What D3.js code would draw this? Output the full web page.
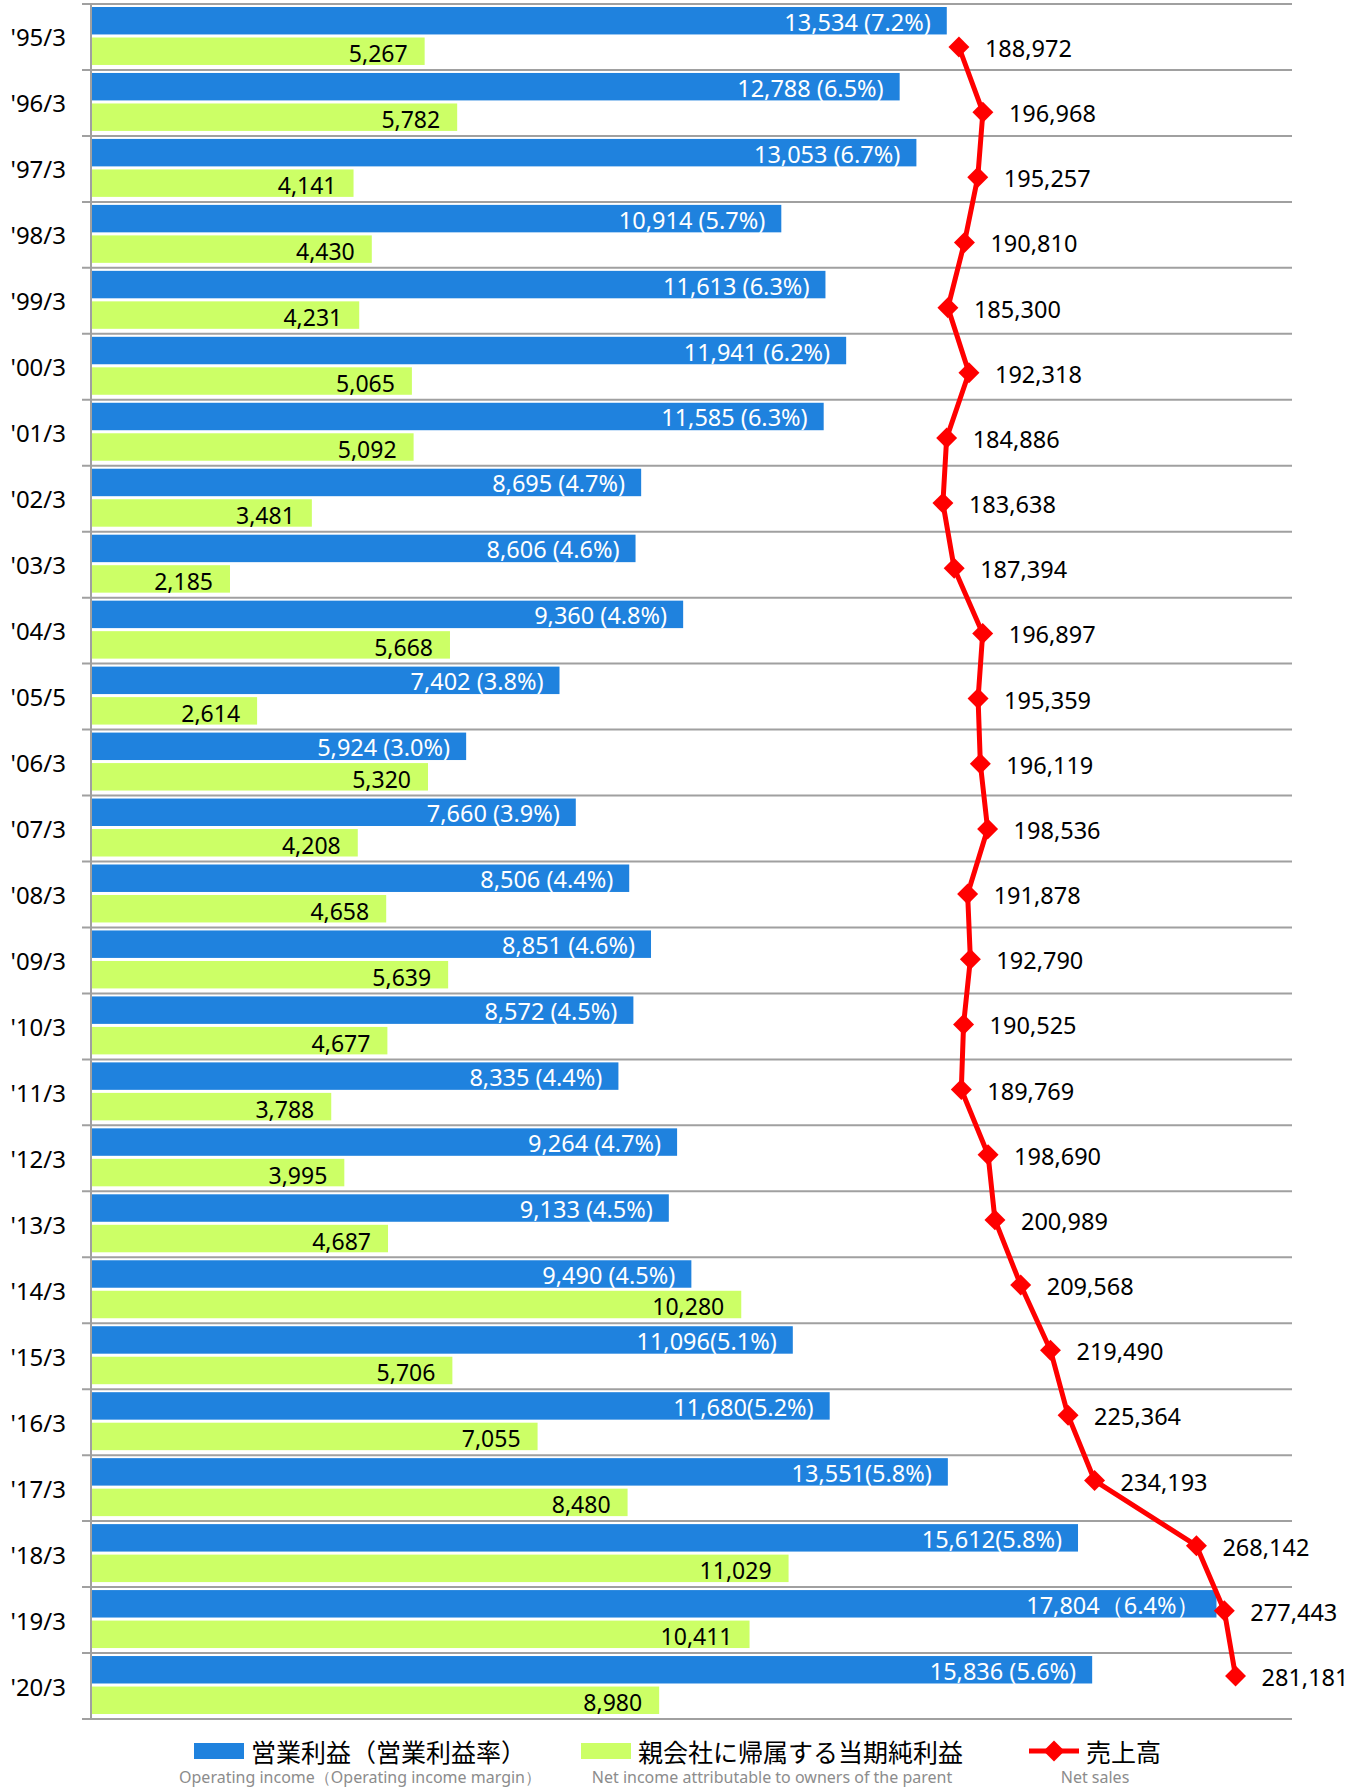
<!DOCTYPE html>
<html>
<head>
<meta charset="utf-8">
<script src="https://cdn.jsdelivr.net/npm/d3@7"></script>
<style>
  html, body { margin: 0; padding: 0; background: #fff; }
  svg { display: block; }
</style>
</head>
<body>
<script>
// Fiscal periods, top to bottom
const categories = ["'95/3","'96/3","'97/3","'98/3","'99/3","'00/3","'01/3","'02/3","'03/3","'04/3","'05/5","'06/3","'07/3","'08/3","'09/3","'10/3","'11/3","'12/3","'13/3","'14/3","'15/3","'16/3","'17/3","'18/3","'19/3","'20/3"];

// 営業利益 (百万円)
const operatingIncome = [13534,12788,13053,10914,11613,11941,11585,8695,8606,9360,7402,5924,7660,8506,8851,8572,8335,9264,9133,9490,11096,11680,13551,15612,17804,15836];
// 営業利益率 as printed after each figure
const marginLabels = [" (7.2%)"," (6.5%)"," (6.7%)"," (5.7%)"," (6.3%)"," (6.2%)"," (6.3%)"," (4.7%)"," (4.6%)"," (4.8%)"," (3.8%)"," (3.0%)"," (3.9%)"," (4.4%)"," (4.6%)"," (4.5%)"," (4.4%)"," (4.7%)"," (4.5%)"," (4.5%)","(5.1%)","(5.2%)","(5.8%)","(5.8%)","（6.4%）"," (5.6%)"];
// 親会社に帰属する当期純利益
const netIncome = [5267,5782,4141,4430,4231,5065,5092,3481,2185,5668,2614,5320,4208,4658,5639,4677,3788,3995,4687,10280,5706,7055,8480,11029,10411,8980];
// 売上高
const netSales = [188972,196968,195257,190810,185300,192318,184886,183638,187394,196897,195359,196119,198536,191878,192790,190525,189769,198690,200989,209568,219490,225364,234193,268142,277443,281181];

// Legend entries
const legendMain = ["営業利益（営業利益率）", "親会社に帰属する当期純利益", "売上高"];
const legendSub = ["Operating income（Operating income margin）", "Net income attributable to owners of the parent", "Net sales"];

const W = 1351, H = 1788;
const plotLeft = 92, plotRight = 1292, plotTop = 4, plotBottom = 1719;

const COLOR_OP = "#1f82de";
const COLOR_NET = "#ccff66";
const COLOR_SALES = "#ff0000";
const GRID = "#a0a0a0";
const NUM_FONT = "'Noto Sans', 'Liberation Sans', sans-serif";
const JP_FONT = "'Noto Sans CJK JP', 'Noto Sans', sans-serif";

const svg = d3.select("body").append("svg")
  .attr("width", W).attr("height", H)
  .attr("viewBox", `0 0 ${W} ${H}`);

svg.append("rect").attr("width", W).attr("height", H).attr("fill", "#fff");

// Scales
const y = d3.scaleBand().domain(categories).range([plotTop, plotBottom]).paddingInner(0).paddingOuter(0);
const ySub = d3.scaleBand().domain(["op", "net"]).range([3, y.bandwidth() - 5]).paddingInner(0.1);
const xBar = d3.scaleLinear().domain([0, 19000]).range([plotLeft, plotRight]);
const xSales = d3.scaleLinear().domain([-100000, 300000]).range([plotLeft, plotRight]);
const ySales = d3.scalePoint().domain(categories).range([plotTop + 43, plotBottom - 43]);

const rows = categories.map((c, i) => ({
  cat: c,
  op: operatingIncome[i],
  margin: marginLabels[i],
  net: netIncome[i],
  sales: netSales[i]
}));

// Row separators (gridlines) with short ticks left of the axis
const boundaries = categories.map(c => y(c)).concat([plotBottom]);
svg.append("g").selectAll("line").data(boundaries).join("line")
  .attr("x1", plotLeft - 10).attr("x2", plotRight)
  .attr("y1", d => d).attr("y2", d => d)
  .attr("stroke", GRID).attr("stroke-width", 2);

// Category axis
svg.append("line")
  .attr("x1", plotLeft - 1).attr("x2", plotLeft - 1)
  .attr("y1", plotTop).attr("y2", plotBottom)
  .attr("stroke", GRID).attr("stroke-width", 2);

svg.append("g").selectAll("text").data(categories).join("text")
  .attr("x", 66)
  .attr("y", d => y(d) + y.bandwidth() / 2)
  .attr("text-anchor", "end")
  .attr("dominant-baseline", "central")
  .attr("font-family", NUM_FONT)
  .attr("font-size", 24)
  .attr("fill", "#000")
  .text(d => d);

// Bars
const rowG = svg.append("g").selectAll("g").data(rows).join("g")
  .attr("transform", d => `translate(0,${y(d.cat)})`);

rowG.append("rect")
  .attr("x", xBar(0))
  .attr("y", ySub("op"))
  .attr("width", d => xBar(d.op) - xBar(0))
  .attr("height", ySub.bandwidth())
  .attr("fill", COLOR_OP);

rowG.append("rect")
  .attr("x", xBar(0))
  .attr("y", ySub("net"))
  .attr("width", d => xBar(d.net) - xBar(0))
  .attr("height", ySub.bandwidth())
  .attr("fill", COLOR_NET);

const fmt = d3.format(",");

rowG.append("text")
  .attr("x", d => xBar(d.op) - 16)
  .attr("y", ySub("op") + ySub.bandwidth() / 2 + 1)
  .attr("text-anchor", "end")
  .attr("dominant-baseline", "central")
  .attr("font-family", NUM_FONT)
  .attr("font-size", 23.5)
  .attr("fill", "#fff")
  .text(d => fmt(d.op) + d.margin);

rowG.append("text")
  .attr("x", d => xBar(d.net) - 17)
  .attr("y", ySub("net") + ySub.bandwidth() / 2 + 2)
  .attr("text-anchor", "end")
  .attr("dominant-baseline", "central")
  .attr("font-family", NUM_FONT)
  .attr("font-size", 23)
  .attr("fill", "#000")
  .text(d => fmt(d.net));

// Net sales line
const line = d3.line()
  .x(d => xSales(d.sales))
  .y(d => ySales(d.cat));

svg.append("path")
  .datum(rows)
  .attr("d", line)
  .attr("fill", "none")
  .attr("stroke", COLOR_SALES)
  .attr("stroke-width", 5)
  .attr("stroke-linejoin", "round");

const diamond = d3.symbol().type(d3.symbolSquare).size(220);

svg.append("g").selectAll("path").data(rows).join("path")
  .attr("d", diamond)
  .attr("transform", d => `translate(${xSales(d.sales)},${ySales(d.cat)}) rotate(45)`)
  .attr("fill", COLOR_SALES);

svg.append("g").selectAll("text").data(rows).join("text")
  .attr("x", d => xSales(d.sales) + 26)
  .attr("y", d => ySales(d.cat) + 1)
  .attr("dominant-baseline", "central")
  .attr("font-family", NUM_FONT)
  .attr("font-size", 23.5)
  .attr("fill", "#000")
  .text(d => fmt(d.sales));

// Legend
const legendY = 1751;
const subY = 1777;
const legendItems = [
  { x: 194, kind: "rect", color: COLOR_OP },
  { x: 581, kind: "rect", color: COLOR_NET },
  { x: 1029, kind: "line", color: COLOR_SALES }
];

legendItems.forEach((it, i) => {
  const g = svg.append("g");
  const swW = 50;
  if (it.kind === "rect") {
    g.append("rect")
      .attr("x", it.x).attr("y", legendY - 8)
      .attr("width", swW).attr("height", 16)
      .attr("fill", it.color);
  } else {
    g.append("line")
      .attr("x1", it.x).attr("x2", it.x + swW)
      .attr("y1", legendY).attr("y2", legendY)
      .attr("stroke", it.color).attr("stroke-width", 5);
    g.append("path")
      .attr("d", diamond)
      .attr("transform", `translate(${it.x + swW / 2},${legendY}) rotate(45)`)
      .attr("fill", it.color);
  }
  const main = g.append("text")
    .attr("x", it.x + swW + 7)
    .attr("y", legendY)
    .attr("dominant-baseline", "central")
    .attr("font-family", JP_FONT)
    .attr("font-size", 25)
    .attr("fill", "#000")
    .text(legendMain[i]);
  const mainW = main.node().getComputedTextLength();
  const cx = (it.x + it.x + swW + 7 + mainW) / 2;
  g.append("text")
    .attr("x", cx)
    .attr("y", subY)
    .attr("text-anchor", "middle")
    .attr("dominant-baseline", "central")
    .attr("font-family", NUM_FONT)
    .attr("font-size", 16)
    .attr("fill", "#8c8c8c")
    .text(legendSub[i]);
});
</script>
</body>
</html>
